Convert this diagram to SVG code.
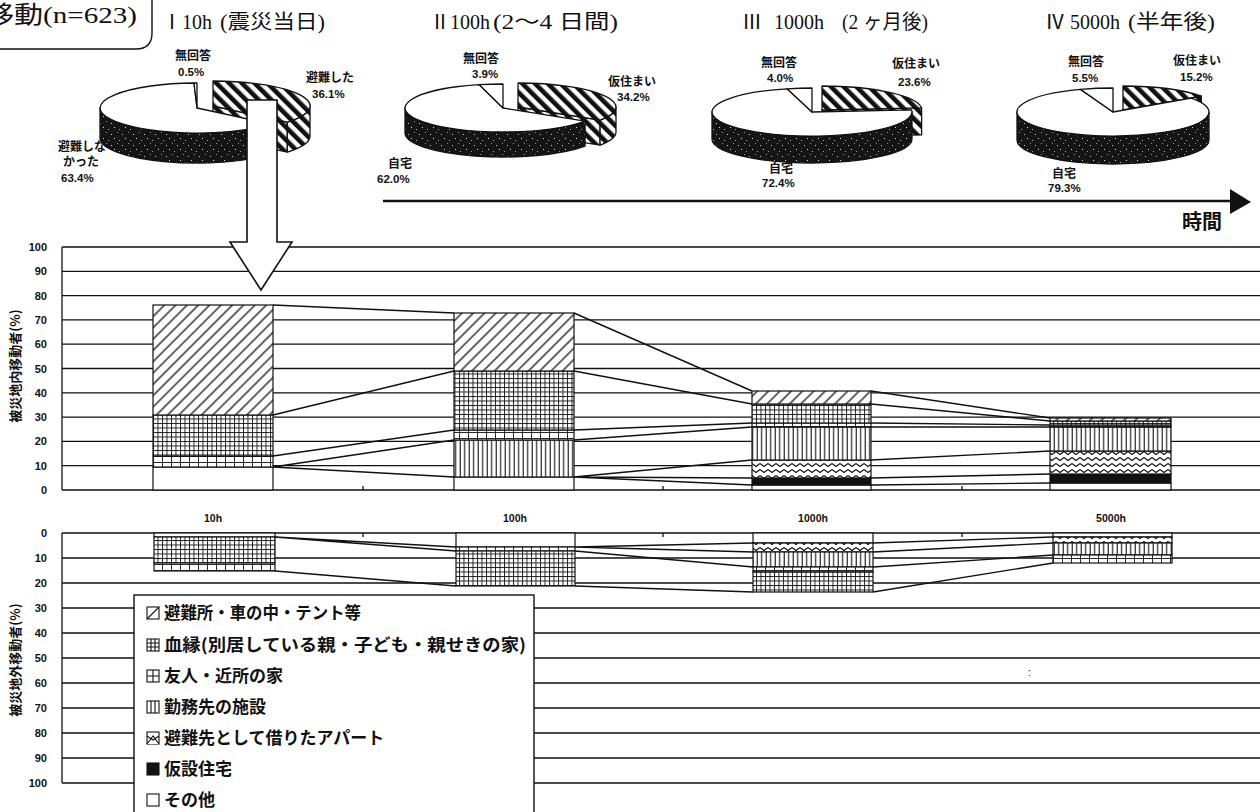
<svg xmlns="http://www.w3.org/2000/svg" width="1260" height="812" viewBox="0 0 1260 812">
<style>
.ln{stroke:#111;stroke-width:1.4;fill:none}
.g{stroke:#111;stroke-width:1.3}
.bar{stroke:#111;stroke-width:1.2}
.ax{font-family:"Liberation Sans",Arial,sans-serif;font-size:11px;font-weight:bold;fill:#111;text-anchor:end}
.cat{font-family:"Liberation Sans",Arial,sans-serif;font-size:10.5px;font-weight:bold;fill:#111;text-anchor:middle}
.pl{font-family:"Noto Sans CJK JP",sans-serif;font-size:12px;font-weight:bold;fill:#111}
.pp{font-family:"Liberation Sans",Arial,sans-serif;font-size:11.5px;font-weight:bold;fill:#111}
.tt{font-family:"Liberation Serif","Noto Sans CJK JP",serif;font-size:20px;fill:#111}
.lg{font-family:"Noto Sans CJK JP",sans-serif;font-size:17px;font-weight:bold;fill:#111}
.yt{font-family:"Noto Sans CJK JP",sans-serif;font-size:13px;font-weight:bold;fill:#111;text-anchor:middle}
.pe{stroke:#111;stroke-width:1.3;stroke-linejoin:round}
</style>
<defs>
<pattern id="diag" width="8" height="8" patternUnits="userSpaceOnUse" patternTransform="rotate(45)"><rect width="8" height="8" fill="#fff"/><line x1="4" y1="0" x2="4" y2="8" stroke="#111" stroke-width="1.3"/></pattern>
<pattern id="pieH" width="9" height="9" patternUnits="userSpaceOnUse" patternTransform="rotate(-45)"><rect width="9" height="9" fill="#fff"/><rect x="2" width="4.6" height="9" fill="#111"/></pattern>
<pattern id="stip" width="11" height="11" patternUnits="userSpaceOnUse"><rect width="11" height="11" fill="#151515"/><rect x="1" y="2" width="1" height="1" fill="#ccc"/><rect x="7" y="0" width="1" height="1" fill="#999"/><rect x="4" y="6" width="1" height="1" fill="#ddd"/><rect x="9" y="8" width="1" height="1" fill="#aaa"/></pattern>
<pattern id="kin" width="4.5" height="4.5" patternUnits="userSpaceOnUse"><rect width="4.5" height="4.5" fill="#fff"/><path d="M0.5 0V4.5M0 0.5H4.5" stroke="#111" stroke-width="0.9"/></pattern>
<pattern id="fri" width="9" height="6" patternUnits="userSpaceOnUse"><rect width="9" height="6" fill="#fff"/><path d="M0.5 0V6M0 0.5H9" stroke="#111" stroke-width="0.9"/></pattern>
<pattern id="work" width="4.5" height="10" patternUnits="userSpaceOnUse"><rect width="4.5" height="10" fill="#fff"/><line x1="1.2" y1="0" x2="1.2" y2="10" stroke="#111" stroke-width="1.1"/></pattern>
<pattern id="zig" width="8" height="6" patternUnits="userSpaceOnUse"><rect width="8" height="6" fill="#fff"/><path d="M0 1.5L4 4.5L8 1.5" stroke="#111" stroke-width="1.1" fill="none"/></pattern>
</defs>
<rect width="1260" height="812" fill="#fff"/>

<g id="title-box">
<path class="ln" d="M0 49H136Q152 49 152 33V0"/>
<text x="-15" y="23" font-family="Liberation Serif,'Noto Sans CJK JP',serif" font-size="24" fill="#111" textLength="152" lengthAdjust="spacingAndGlyphs">移動(n=623)</text>
</g>

<g id="titles">
<text class="tt" y="29"><tspan x="162">Ⅰ</tspan><tspan x="182">10h</tspan><tspan x="220" textLength="105" lengthAdjust="spacingAndGlyphs">(震災当日)</tspan></text>
<text class="tt" y="29"><tspan x="430">Ⅱ</tspan><tspan x="450">100h</tspan><tspan x="493" textLength="125" lengthAdjust="spacingAndGlyphs">(2〜4 日間)</tspan></text>
<text class="tt" y="29"><tspan x="742">Ⅲ</tspan><tspan x="774">1000h</tspan><tspan x="842" textLength="86" lengthAdjust="spacingAndGlyphs">(2 ヶ月後)</tspan></text>
<text class="tt" y="29"><tspan x="1045">Ⅳ</tspan><tspan x="1070">5000h</tspan><tspan x="1128" textLength="87" lengthAdjust="spacingAndGlyphs">(半年後)</tspan></text>
</g>

<g id="pie1">
<path class="pe" fill="url(#pieH)" d="M213 106L287.3 122.1L287.3 152.1L213 136Z"/>
<path class="pe" fill="url(#pieH)" d="M310 106A97 25 0 0 1 287.3 122.1L287.3 152.1A97 25 0 0 0 310 136Z"/>
<path class="pe" fill="url(#pieH)" d="M213 106L213 81A97 25 0 0 1 287.3 122.1Z"/>
<path class="pe" fill="url(#stip)" d="M271.3 124.1A97 25 0 0 1 100 108L100 138A97 25 0 0 0 271.3 154.1Z"/>
<path class="pe" fill="#fff" d="M197 108L271.3 124.1A97 25 0 1 1 194 83Z"/>
<path class="pe" fill="#fff" d="M197 108L194 83A97 25 0 0 1 197 83Z"/>
<text class="pl" x="175" y="60">無回答</text><text class="pp" x="178" y="76">0.5%</text>
<text class="pl" x="306" y="82">避難した</text><text class="pp" x="312" y="98">36.1%</text>
<text class="pl" x="58" y="151">避難しな</text><text class="pl" x="63" y="166">かった</text><text class="pp" x="61" y="182">63.4%</text>
</g>

<g id="pie2">
<path class="pe" fill="url(#pieH)" d="M518 107L600.1 120.1L600.1 145.1L518 132Z"/>
<path class="pe" fill="url(#pieH)" d="M616 107A98 24 0 0 1 600.1 120.1L600.1 145.1A98 24 0 0 0 616 132Z"/>
<path class="pe" fill="url(#pieH)" d="M518 107L518 83A98 24 0 0 1 600.1 120.1Z"/>
<path class="pe" fill="url(#stip)" d="M585.1 121.1A98 24 0 0 1 405 108L405 133A98 24 0 0 0 585.1 146.1Z"/>
<path class="pe" fill="#fff" d="M503 108L585.1 121.1A98 24 0 1 1 479.3 84.7Z"/>
<path class="pe" fill="#fff" d="M503 108L479.3 84.7A98 24 0 0 1 503 84Z"/>
<text class="pl" x="463" y="63">無回答</text><text class="pp" x="472" y="78">3.9%</text>
<text class="pl" x="608" y="86">仮住まい</text><text class="pp" x="617" y="101">34.2%</text>
<text class="pl" x="388" y="168">自宅</text><text class="pp" x="377" y="183">62.0%</text>
</g>

<g id="pie3">
<path class="pe" fill="url(#pieH)" d="M822 110L921.6 107.9L921.6 134.9L822 137Z"/>
<path class="pe" fill="url(#pieH)" d="M822 110L822 86A100 24 0 0 1 921.6 107.9Z"/>
<path class="pe" fill="url(#stip)" d="M912 112A100 24 0 0 1 712 112L712 139A100 24 0 0 0 912 139Z"/>
<path class="pe" fill="#fff" d="M812 112L911.6 109.9A100 24 0 1 1 787.1 88.8Z"/>
<path class="pe" fill="#fff" d="M812 112L787.1 88.8A100 24 0 0 1 812 88Z"/>
<text class="pl" x="761" y="67">無回答</text><text class="pp" x="767" y="82">4.0%</text>
<text class="pl" x="892" y="68">仮住まい</text><text class="pp" x="898" y="86">23.6%</text>
<text class="pl" x="769" y="173">自宅</text><text class="pp" x="762" y="187">72.4%</text>
</g>

<g id="pie4">
<path class="pe" fill="url(#pieH)" d="M1123 110L1201.3 96.1L1201.3 124.1L1123 138Z"/>
<path class="pe" fill="url(#pieH)" d="M1123 110L1123 86A96 24 0 0 1 1201.3 96.1Z"/>
<path class="pe" fill="url(#stip)" d="M1209 112A96 24 0 0 1 1017 112L1017 140A96 24 0 0 0 1209 140Z"/>
<path class="pe" fill="#fff" d="M1113 112L1191.3 98.1A96 24 0 1 1 1080.5 89.4Z"/>
<path class="pe" fill="#fff" d="M1113 112L1080.5 89.4A96 24 0 0 1 1113 88Z"/>
<text class="pl" x="1068" y="66">無回答</text><text class="pp" x="1072" y="82">5.5%</text>
<text class="pl" x="1173" y="65">仮住まい</text><text class="pp" x="1180" y="81">15.2%</text>
<text class="pl" x="1052" y="178">自宅</text><text class="pp" x="1048" y="192">79.3%</text>
</g>

<g id="time-axis">
<line x1="383" y1="201" x2="1232" y2="201" stroke="#111" stroke-width="2.6"/>
<polygon points="1230,189 1251,202 1230,214" fill="#111"/>
<text x="1182" y="229" font-family="Noto Sans CJK JP,sans-serif" font-size="20" font-weight="bold" fill="#111">時間</text>
</g>

<g id="upper-grid">
<path class="g" d="M62 490H1260M62 465.7H1260M62 441.4H1260M62 417.1H1260M62 392.8H1260M62 368.5H1260M62 344.2H1260M62 319.9H1260M62 295.6H1260M62 271.3H1260M62 247H1260M62 247V490M363 490V486M663 490V486M962 490V486"/>
<text class="ax" x="47" y="251">100</text><text class="ax" x="47" y="275">90</text><text class="ax" x="47" y="300">80</text><text class="ax" x="47" y="324">70</text><text class="ax" x="47" y="348">60</text><text class="ax" x="47" y="373">50</text><text class="ax" x="47" y="397">40</text><text class="ax" x="47" y="421">30</text><text class="ax" x="47" y="445">20</text><text class="ax" x="47" y="470">10</text><text class="ax" x="47" y="494">0</text>
<text class="yt" transform="translate(20 366) rotate(-90)">被災地内移動者(%)</text>
</g>

<g id="upper-connectors" class="ln">
<path d="M273 305L454 313M273 415L454 371M273 456L454 430M273 467L454 440M273 467L454 477"/>
<path d="M574 313L752 391M574 371L752 404M574 430L752 423M574 440L752 427M574 477L752 460M574 477L752 478M574 477L752 485"/>
<path d="M871 391L1050 418M871 404L1050 421M871 423L1050 425M871 427L1050 427M871 460L1050 451M871 478L1050 474M871 485L1050 483"/>
</g>

<g id="bar-10h">
<rect class="bar" x="153" y="467" width="120" height="23" fill="#fff"/>
<rect class="bar" x="153" y="456" width="120" height="11" fill="url(#fri)"/>
<rect class="bar" x="153" y="415" width="120" height="41" fill="url(#kin)"/>
<rect class="bar" x="153" y="305" width="120" height="110" fill="url(#diag)"/>
</g>
<g id="bar-100h">
<rect class="bar" x="454" y="477" width="120" height="13" fill="#fff"/>
<rect class="bar" x="454" y="440" width="120" height="37" fill="url(#work)"/>
<rect class="bar" x="454" y="430" width="120" height="10" fill="url(#fri)"/>
<rect class="bar" x="454" y="371" width="120" height="59" fill="url(#kin)"/>
<rect class="bar" x="454" y="313" width="120" height="58" fill="url(#diag)"/>
</g>
<g id="bar-1000h">
<rect class="bar" x="752" y="485" width="119" height="5" fill="#fff"/>
<rect class="bar" x="752" y="478" width="119" height="7" fill="#111"/>
<rect class="bar" x="752" y="460" width="119" height="18" fill="url(#zig)"/>
<rect class="bar" x="752" y="427" width="119" height="33" fill="url(#work)"/>
<rect class="bar" x="752" y="423" width="119" height="4" fill="url(#fri)"/>
<rect class="bar" x="752" y="404" width="119" height="19" fill="url(#kin)"/>
<rect class="bar" x="752" y="391" width="119" height="13" fill="url(#diag)"/>
</g>
<g id="bar-5000h">
<rect class="bar" x="1050" y="483" width="121" height="7" fill="#fff"/>
<rect class="bar" x="1050" y="474" width="121" height="9" fill="#111"/>
<rect class="bar" x="1050" y="451" width="121" height="23" fill="url(#zig)"/>
<rect class="bar" x="1050" y="427" width="121" height="24" fill="url(#work)"/>
<rect class="bar" x="1050" y="425" width="121" height="2" fill="url(#fri)"/>
<rect class="bar" x="1050" y="421" width="121" height="4" fill="url(#kin)"/>
<rect class="bar" x="1050" y="418" width="121" height="3" fill="url(#diag)"/>
</g>

<g id="categories">
<text class="cat" x="213" y="522">10h</text><text class="cat" x="515" y="522">100h</text><text class="cat" x="813" y="522">1000h</text><text class="cat" x="1111" y="522">5000h</text>
</g>

<g id="lower-grid">
<path class="g" d="M62 533H1260M62 558H1260M62 583H1260M62 608H1260M62 633H1260M62 658H1260M62 683H1260M62 708H1260M62 733H1260M62 758H1260M62 783H1260M62 533V783M363 533V537M663 533V537M962 533V537"/>
<text class="ax" x="47" y="537">0</text><text class="ax" x="47" y="562">10</text><text class="ax" x="47" y="587">20</text><text class="ax" x="47" y="612">30</text><text class="ax" x="47" y="637">40</text><text class="ax" x="47" y="662">50</text><text class="ax" x="47" y="687">60</text><text class="ax" x="47" y="712">70</text><text class="ax" x="47" y="737">80</text><text class="ax" x="47" y="762">90</text><text class="ax" x="47" y="787">100</text>
<text class="yt" transform="translate(20 660) rotate(-90)">被災地外移動者(%)</text>
<text x="1028" y="676" font-family="Liberation Sans,sans-serif" font-size="10" fill="#111">:</text>
</g>

<g id="lower-connectors" class="ln">
<path d="M275 537L456 547M275 537L456 551M275 571L456 586"/>
<path d="M575 547L753 543M575 547L753 552M575 551L753 567M575 586L753 592"/>
<path d="M873 543L1053 537M873 552L1053 543M873 567L1053 555M873 592L1053 563"/>
</g>

<g id="lbar-10h">
<rect class="bar" x="154" y="533" width="121" height="4" fill="#fff"/>
<rect class="bar" x="154" y="537" width="121" height="26" fill="url(#kin)"/>
<rect class="bar" x="154" y="563" width="121" height="8" fill="url(#fri)"/>
</g>
<g id="lbar-100h">
<rect class="bar" x="456" y="533" width="119" height="14" fill="#fff"/>
<rect class="bar" x="456" y="547" width="119" height="4" fill="url(#fri)"/>
<rect class="bar" x="456" y="551" width="119" height="35" fill="url(#kin)"/>
</g>
<g id="lbar-1000h">
<rect class="bar" x="753" y="533" width="120" height="10" fill="#fff"/>
<rect class="bar" x="753" y="543" width="120" height="9" fill="url(#zig)"/>
<rect class="bar" x="753" y="552" width="120" height="15" fill="url(#work)"/>
<rect class="bar" x="753" y="567" width="120" height="5" fill="url(#fri)"/>
<rect class="bar" x="753" y="572" width="120" height="20" fill="url(#kin)"/>
</g>
<g id="lbar-5000h">
<rect class="bar" x="1053" y="533" width="119" height="4" fill="#fff"/>
<rect class="bar" x="1053" y="537" width="119" height="6" fill="url(#zig)"/>
<rect class="bar" x="1053" y="543" width="119" height="12" fill="url(#work)"/>
<rect class="bar" x="1053" y="555" width="119" height="8" fill="url(#fri)"/>
</g>

<g id="legend">
<rect x="134" y="595" width="400" height="230" fill="#fff" stroke="#111" stroke-width="1.4"/>
<g stroke="#111" stroke-width="1.1" fill="#fff">
<rect x="147" y="607" width="12" height="12"/><line x1="147" y1="619" x2="159" y2="607"/>
<rect x="147" y="639" width="12" height="12"/><path d="M151 639V651M155 639V651M147 643H159M147 647H159"/>
<rect x="147" y="670" width="12" height="12"/><path d="M153 670V682M147 676H159"/>
<rect x="147" y="701" width="12" height="12"/><path d="M151 701V713M155 701V713"/>
<rect x="147" y="732" width="12" height="12"/><path d="M147 744L153 736L159 744M147 736L153 740L159 736"/>
<rect x="147" y="763" width="12" height="12" fill="#111"/>
<rect x="147" y="794" width="12" height="12"/>
</g>
<text class="lg" x="164" y="619" textLength="197" lengthAdjust="spacingAndGlyphs">避難所・車の中・テント等</text>
<text class="lg" x="164" y="651" textLength="362" lengthAdjust="spacingAndGlyphs">血縁(別居している親・子ども・親せきの家)</text>
<text class="lg" x="164" y="682">友人・近所の家</text>
<text class="lg" x="164" y="713">勤務先の施設</text>
<text class="lg" x="164" y="744">避難先として借りたアパート</text>
<text class="lg" x="164" y="775">仮設住宅</text>
<text class="lg" x="164" y="806">その他</text>
</g>

<g id="big-arrow">
<path d="M247 100V242H230L261 290L292 242H277V100Z" fill="#fff" stroke="#111" stroke-width="1.6" stroke-linejoin="miter"/>
</g>
</svg>
